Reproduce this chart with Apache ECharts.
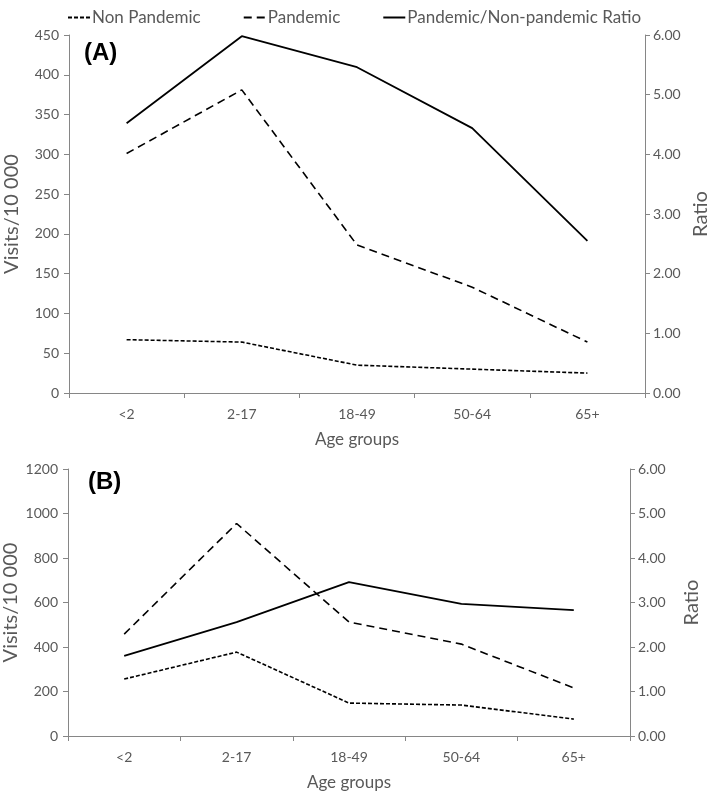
<!DOCTYPE html>
<html><head><meta charset="utf-8">
<script src="https://cdn.jsdelivr.net/npm/echarts@6/dist/echarts.min.js"></script>
<style>html,body{margin:0;padding:0;background:#fff}#c{width:709px;height:792px}</style>
</head><body><div id="c"></div>
<script>
const categories = ['<2', '2-17', '18-49', '50-64', '65+'];
const nonPandemicA = [67, 64, 35, 30, 25];
const pandemicA = [301, 381, 186, 133, 64];
const ratioA = [4.52, 5.98, 5.46, 4.44, 2.55];
const nonPandemicB = [256, 377, 148, 139, 76];
const pandemicB = [458, 955, 512, 413, 216];
const ratioB = [1.80, 2.56, 3.46, 2.97, 2.83];
const leftTicksA = {min: 0, max: 450, interval: 50};
const leftTicksB = {min: 0, max: 1200, interval: 200};
const rightTicks = {min: 0, max: 6, interval: 1};

const font = 'Lato';
const grey = '#595959';
const axisGrey = '#868686';
const chart = echarts.init(document.getElementById('c'));

function xAxis(gi) {
  return {
    type: 'category', gridIndex: gi, data: categories, boundaryGap: true,
    name: 'Age groups', nameLocation: 'middle', nameGap: 38, nameMoveOverlap: false,
    nameTextStyle: {fontFamily: font, fontSize: 17, color: grey},
    axisLine: {lineStyle: {color: axisGrey, width: 1}},
    axisTick: {show: true, length: 5, lineStyle: {color: axisGrey}},
    axisLabel: {fontFamily: font, fontSize: 14, color: grey, margin: 14},
    splitLine: {show: false}
  };
}
function leftAxis(gi, t) {
  return {
    type: 'value', gridIndex: gi, position: 'left', min: t.min, max: t.max, interval: t.interval,
    name: 'Visits/10 000', nameLocation: 'middle', nameGap: 47, nameRotate: 90, nameMoveOverlap: false,
    nameTextStyle: {fontFamily: font, fontSize: 20, color: grey},
    axisLine: {show: true, lineStyle: {color: axisGrey, width: 1}},
    axisTick: {show: true, length: 5, lineStyle: {color: axisGrey}},
    axisLabel: {fontFamily: font, fontSize: 14, color: grey, margin: 10, formatter: v => String(v)},
    splitLine: {show: false}
  };
}
function rightAxis(gi, gap) {
  return {
    type: 'value', gridIndex: gi, position: 'right', min: rightTicks.min, max: rightTicks.max, interval: rightTicks.interval,
    name: 'Ratio', nameLocation: 'middle', nameGap: gap, nameRotate: 90, nameMoveOverlap: false,
    nameTextStyle: {fontFamily: font, fontSize: 20, color: grey},
    axisLine: {show: true, lineStyle: {color: axisGrey, width: 1}},
    axisTick: {show: true, length: 5, lineStyle: {color: axisGrey}},
    axisLabel: {fontFamily: font, fontSize: 14, color: grey, margin: 8, formatter: v => v.toFixed(2)},
    splitLine: {show: false}
  };
}
function line(name, data, xi, yi, type, width) {
  return {
    name, type: 'line', xAxisIndex: xi, yAxisIndex: yi, data,
    symbol: 'none', silent: true, animation: false,
    itemStyle: {color: '#000'},
    lineStyle: {color: '#000', width, type}
  };
}

chart.setOption({
  animation: false,
  legend: {
    top: 4, left: 62, itemGap: 42, itemWidth: 22, itemHeight: 14,
    itemStyle: {opacity: 0},
    textStyle: {fontFamily: font, fontSize: 17, color: grey, padding: [0, 0, 0, -3]},
    data: ['Non Pandemic', 'Pandemic', 'Pandemic/Non-pandemic Ratio']
  },
  title: [
    {text: '(A)', left: 79, top: 36, textStyle: {fontFamily: 'Liberation Sans', fontWeight: 'bold', fontSize: 24, color: '#000'}},
    {text: '(B)', left: 83, top: 465, textStyle: {fontFamily: 'Liberation Sans', fontWeight: 'bold', fontSize: 24, color: '#000'}}
  ],
  grid: [
    {left: 69, right: 64, top: 35, height: 358, outerBoundsMode: 'none', containLabel: false},
    {left: 68, right: 79, top: 469, height: 267, outerBoundsMode: 'none', containLabel: false}
  ],
  xAxis: [xAxis(0), xAxis(1)],
  yAxis: [leftAxis(0, leftTicksA), rightAxis(0, 46), leftAxis(1, leftTicksB), rightAxis(1, 52)],
  series: [
    line('Non Pandemic', nonPandemicA, 0, 0, [4, 2], 1.6),
    line('Pandemic', pandemicA, 0, 0, [8, 5], 1.6),
    line('Pandemic/Non-pandemic Ratio', ratioA, 0, 1, 'solid', 1.8),
    line('Non Pandemic', nonPandemicB, 1, 2, [4, 2], 1.6),
    line('Pandemic', pandemicB, 1, 2, [8, 5], 1.6),
    line('Pandemic/Non-pandemic Ratio', ratioB, 1, 3, 'solid', 1.8)
  ]
});
</script></body></html>
